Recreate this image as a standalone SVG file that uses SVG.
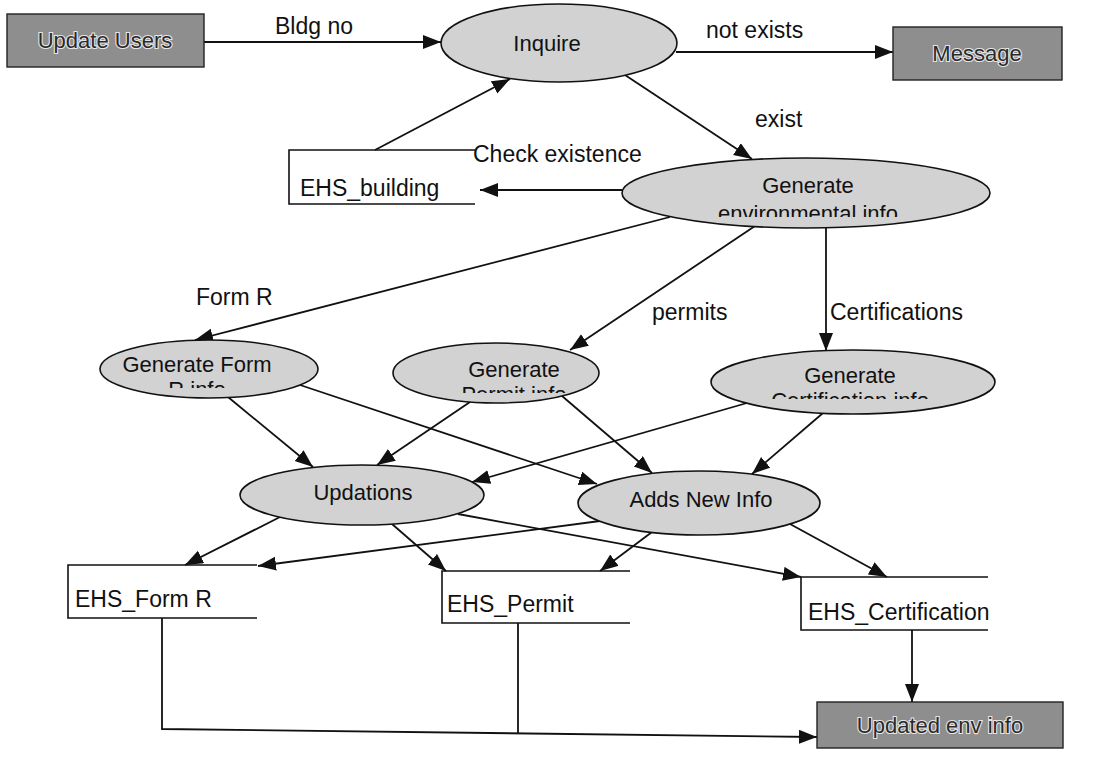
<svg xmlns="http://www.w3.org/2000/svg" width="1101" height="759" viewBox="0 0 1101 759">
  <style>
    text { font-family: "Liberation Sans", Arial, sans-serif; font-size: 22px; fill: #111; }
    .lbl { font-size: 23px; }
    .mid { text-anchor: middle; }
    .proc { fill: #d2d2d2; stroke: #111; stroke-width: 1.6; }
    .ext { fill: #8e8e8e; stroke: #222; stroke-width: 1.4; }
    .ext-label { fill: #2a2a2a; stroke: #e6e6e6; stroke-width: 2.2; paint-order: stroke; text-anchor: middle; }
    .store { fill: none; stroke: #111; stroke-width: 1.6; }
    .flow { fill: none; stroke: #111; stroke-width: 1.8; }
    .arrow { marker-end: url(#head); }
  </style>
  <defs>
    <marker id="head" markerUnits="userSpaceOnUse" markerWidth="20" markerHeight="16" refX="18" refY="7" orient="auto">
      <path d="M0,0 L18,7 L0,14 z" fill="#111"/>
    </marker>
    <!-- second lines of the process labels overflow their ellipses and are cut off -->
    <clipPath id="clip-env"><rect x="600" y="200" width="420" height="17"/></clipPath>
    <clipPath id="clip-formr"><rect x="90" y="378" width="240" height="10"/></clipPath>
    <clipPath id="clip-permit"><rect x="390" y="382" width="220" height="11"/></clipPath>
    <clipPath id="clip-cert"><rect x="700" y="389" width="310" height="10"/></clipPath>
  </defs>

  <rect width="1101" height="759" fill="#fff"/>

  <!-- connectors -->
  <g id="connectors">
    <path class="flow arrow" d="M204,42 L441,42"/>
    <path class="flow arrow" d="M676,52 L893,52"/>
    <path class="flow arrow" d="M625,75 L752,159"/>
    <path class="flow arrow" d="M622,190 L480,190"/>
    <path class="flow arrow" d="M375,150 L510,79"/>
    <path class="flow arrow" d="M670,217 L195,340"/>
    <path class="flow arrow" d="M755,226 L570,350"/>
    <path class="flow arrow" d="M826,228 L826,351"/>
    <path class="flow arrow" d="M228,397 L313,467"/>
    <path class="flow arrow" d="M300,385 L597,484"/>
    <path class="flow arrow" d="M470,402 L377,465"/>
    <path class="flow arrow" d="M562,396 L652,473"/>
    <path class="flow arrow" d="M747,403 L472,482"/>
    <path class="flow arrow" d="M823,413 L752,474"/>
    <path class="flow arrow" d="M280,517 L185,565"/>
    <path class="flow arrow" d="M392,524 L446,571"/>
    <path class="flow arrow" d="M458,514 L801,577"/>
    <path class="flow arrow" d="M600,521 L258,566"/>
    <path class="flow arrow" d="M652,532 L600,571"/>
    <path class="flow arrow" d="M790,524 L887,577"/>
    <path class="flow arrow" d="M912,630 L912,702"/>
    <path class="flow arrow" d="M162,618 L162,729 L817,737"/>
    <path class="flow" d="M518,623 L518,733"/>
  </g>

  <!-- flow labels -->
  <g id="labels">
    <text class="lbl" x="275" y="34">Bldg no</text>
    <text class="lbl" x="706" y="38">not exists</text>
    <text class="lbl" x="755" y="127">exist</text>
    <text class="lbl" x="473" y="162">Check existence</text>
    <text class="lbl" x="196" y="305">Form R</text>
    <text class="lbl" x="652" y="320">permits</text>
    <text class="lbl" x="830" y="320">Certifications</text>
  </g>

  <g id="update-users">
    <rect class="ext" x="7" y="14" width="197" height="53"/>
    <text class="ext-label" x="105" y="48">Update Users</text>
  </g>

  <g id="inquire">
    <ellipse class="proc" cx="559" cy="43" rx="118" ry="39"/>
    <text class="mid" x="547" y="51">Inquire</text>
  </g>

  <g id="message">
    <rect class="ext" x="893" y="27" width="169" height="53"/>
    <text class="ext-label" x="977" y="61">Message</text>
  </g>

  <g id="ehs-building">
    <path class="store" d="M475,150 L289,150 L289,204 L475,204"/>
    <text class="lbl" x="300" y="196">EHS_building</text>
  </g>

  <g id="generate-env">
    <ellipse class="proc" cx="806" cy="193" rx="184" ry="35"/>
    <text class="mid" x="808" y="193">Generate</text>
    <text class="mid" x="808" y="221" clip-path="url(#clip-env)">environmental info</text>
  </g>

  <g id="generate-formr">
    <ellipse class="proc" cx="209" cy="369" rx="109" ry="29"/>
    <text class="mid" x="197" y="372">Generate Form</text>
    <text class="mid" x="197" y="397" clip-path="url(#clip-formr)">R info</text>
  </g>

  <g id="generate-permit">
    <ellipse class="proc" cx="496" cy="373" rx="103" ry="30"/>
    <text class="mid" x="514" y="377">Generate</text>
    <text class="mid" x="514" y="402" clip-path="url(#clip-permit)">Permit info</text>
  </g>

  <g id="generate-cert">
    <ellipse class="proc" cx="853" cy="382" rx="142" ry="32"/>
    <text class="mid" x="850" y="383">Generate</text>
    <text class="mid" x="850" y="408" clip-path="url(#clip-cert)">Certification info</text>
  </g>

  <g id="updations">
    <ellipse class="proc" cx="362" cy="495" rx="122" ry="30"/>
    <text class="mid" x="363" y="500">Updations</text>
  </g>

  <g id="adds-new-info">
    <ellipse class="proc" cx="699" cy="503" rx="121" ry="32"/>
    <text class="mid" x="701" y="507">Adds New Info</text>
  </g>

  <g id="ehs-formr">
    <path class="store" d="M257,565 L68,565 L68,618 L257,618"/>
    <text class="lbl" x="75" y="607">EHS_Form R</text>
  </g>

  <g id="ehs-permit">
    <path class="store" d="M630,571 L442,571 L442,623 L630,623"/>
    <text class="lbl" x="447" y="612">EHS_Permit</text>
  </g>

  <g id="ehs-certification">
    <path class="store" d="M988,577 L801,577 L801,630 L988,630"/>
    <text class="lbl" x="808" y="620">EHS_Certification</text>
  </g>

  <g id="updated-env-info">
    <rect class="ext" x="817" y="702" width="246" height="46"/>
    <text class="ext-label" x="940" y="733">Updated env info</text>
  </g>
</svg>
